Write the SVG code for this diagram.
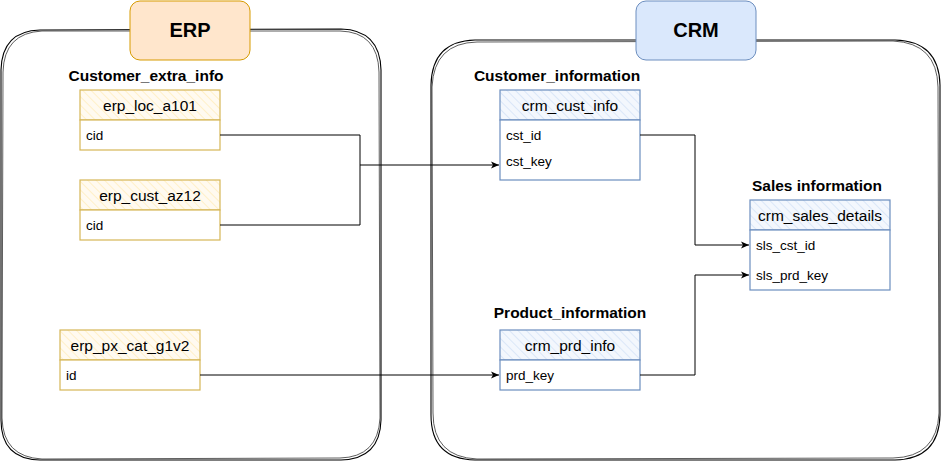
<svg xmlns="http://www.w3.org/2000/svg" width="941" height="461" viewBox="0 0 941 461">
<defs>
<pattern id="hy" patternUnits="userSpaceOnUse" width="6" height="6" patternTransform="rotate(-45)">
<rect width="6" height="6" fill="#fffaf0"/>
<line x1="0" y1="0" x2="0" y2="6" stroke="#fff0c8" stroke-width="2"/>
</pattern>
<pattern id="hb" patternUnits="userSpaceOnUse" width="6" height="6" patternTransform="rotate(-45)">
<rect width="6" height="6" fill="#f3f7fd"/>
<line x1="0" y1="0" x2="0" y2="6" stroke="#dbe7f8" stroke-width="2"/>
</pattern>
<marker id="arr" markerWidth="10" markerHeight="10" refX="9" refY="5" orient="auto" markerUnits="userSpaceOnUse">
<path d="M1,1.5 L9,5 L1,8.5 L3,5 Z" fill="#000"/>
</marker>
</defs>
<style>
.cont{fill:none;stroke:#000;stroke-width:1.1}
.cont2{fill:none;stroke:#333;stroke-width:0.8}
.tit{font-family:"Liberation Sans",Arial,sans-serif;font-weight:bold;font-size:15.5px;fill:#000;text-anchor:middle}
.big{font-family:"Liberation Sans",Arial,sans-serif;font-weight:bold;font-size:20px;fill:#000;text-anchor:middle}
.hd{font-family:"Liberation Sans",Arial,sans-serif;font-size:15.5px;fill:#000;text-anchor:middle}
.row{font-family:"Liberation Sans",Arial,sans-serif;font-size:13.5px;fill:#000}
.ty{stroke:#d6b656;stroke-width:1.2}
.tb{stroke:#6c8ebf;stroke-width:1.2}
.conn{fill:none;stroke:#000;stroke-width:1}
</style>
<rect width="941" height="461" fill="#fff"/>

<g id="erp-container">
<path class="cont" d="M40,30 L341,29 Q380,30 381,70 L381,420 Q380,459 341,460 L40,460 Q1,459 1,420 L1,70 Q2,31 40,30 Z"/>
<path class="cont2" d="M42,31 L340,31 Q378,32 379,72 L380,418 Q378,457 340,458 L42,459 Q3,457 2,418 L3,72 Q4,33 42,31 Z"/>
</g>
<g id="crm-container">
<path class="cont" d="M475,40 L895,40 Q939,41 940,85 L940,415 Q939,459 895,460 L475,460 Q431,459 431,415 L431,85 Q432,41 475,40 Z"/>
<path class="cont2" d="M477,42 L893,41 Q937,43 938,87 L939,413 Q937,457 893,458 L477,459 Q433,457 433,413 L432,87 Q434,43 477,42 Z"/>
</g>

<g id="erp-label">
<rect x="130" y="1" width="120" height="59" rx="10" fill="#ffe6cc" stroke="#d79b00" stroke-width="1"/>
<text class="big" x="190" y="37">ERP</text>
</g>
<g id="crm-label">
<rect x="636" y="1" width="120" height="59" rx="10" fill="#dae8fc" stroke="#6c8ebf" stroke-width="1"/>
<text class="big" x="696" y="37">CRM</text>
</g>

<g id="title-customer-extra"><text class="tit" x="146" y="81">Customer_extra_info</text></g>
<g id="title-customer-info"><text class="tit" x="557" y="81">Customer_information</text></g>
<g id="title-product-info"><text class="tit" x="570" y="318">Product_information</text></g>
<g id="title-sales-info"><text class="tit" x="817" y="191">Sales information</text></g>

<g id="erp_loc_a101">
<rect x="80" y="90" width="140" height="30" fill="url(#hy)" class="ty"/>
<rect x="80" y="120" width="140" height="30" fill="#fff" class="ty"/>
<text class="hd" x="150" y="111">erp_loc_a101</text>
<text class="row" x="86" y="140">cid</text>
</g>
<g id="erp_cust_az12">
<rect x="80" y="180" width="140" height="30" fill="url(#hy)" class="ty"/>
<rect x="80" y="210" width="140" height="30" fill="#fff" class="ty"/>
<text class="hd" x="150" y="201">erp_cust_az12</text>
<text class="row" x="86" y="230">cid</text>
</g>
<g id="erp_px_cat_g1v2">
<rect x="60" y="330" width="140" height="30" fill="url(#hy)" class="ty"/>
<rect x="60" y="360" width="140" height="30" fill="#fff" class="ty"/>
<text class="hd" x="130" y="351">erp_px_cat_g1v2</text>
<text class="row" x="66" y="380">id</text>
</g>

<g id="crm_cust_info">
<rect x="500" y="90" width="140" height="30" fill="url(#hb)" class="tb"/>
<rect x="500" y="120" width="140" height="60" fill="#fff" class="tb"/>
<text class="hd" x="570" y="111">crm_cust_info</text>
<text class="row" x="506" y="140">cst_id</text>
<text class="row" x="506" y="166">cst_key</text>
</g>
<g id="crm_prd_info">
<rect x="500" y="330" width="140" height="30" fill="url(#hb)" class="tb"/>
<rect x="500" y="360" width="140" height="30" fill="#fff" class="tb"/>
<text class="hd" x="570" y="351">crm_prd_info</text>
<text class="row" x="506" y="380">prd_key</text>
</g>
<g id="crm_sales_details">
<rect x="750" y="200" width="140" height="30" fill="url(#hb)" class="tb"/>
<rect x="750" y="230" width="140" height="60" fill="#fff" class="tb"/>
<text class="hd" x="820" y="221">crm_sales_details</text>
<text class="row" x="756" y="250">sls_cst_id</text>
<text class="row" x="756" y="280">sls_prd_key</text>
</g>

<g id="connectors">
<path class="conn" d="M220,135 L360,135 L360,165 L499,165" marker-end="url(#arr)"/>
<path class="conn" d="M220,225 L360,225 L360,165"/>
<path class="conn" d="M200,375 L499,375" marker-end="url(#arr)"/>
<path class="conn" d="M640,135 L695,135 L695,245 L749,245" marker-end="url(#arr)"/>
<path class="conn" d="M640,375 L695,375 L695,275 L749,275" marker-end="url(#arr)"/>
</g>
</svg>
